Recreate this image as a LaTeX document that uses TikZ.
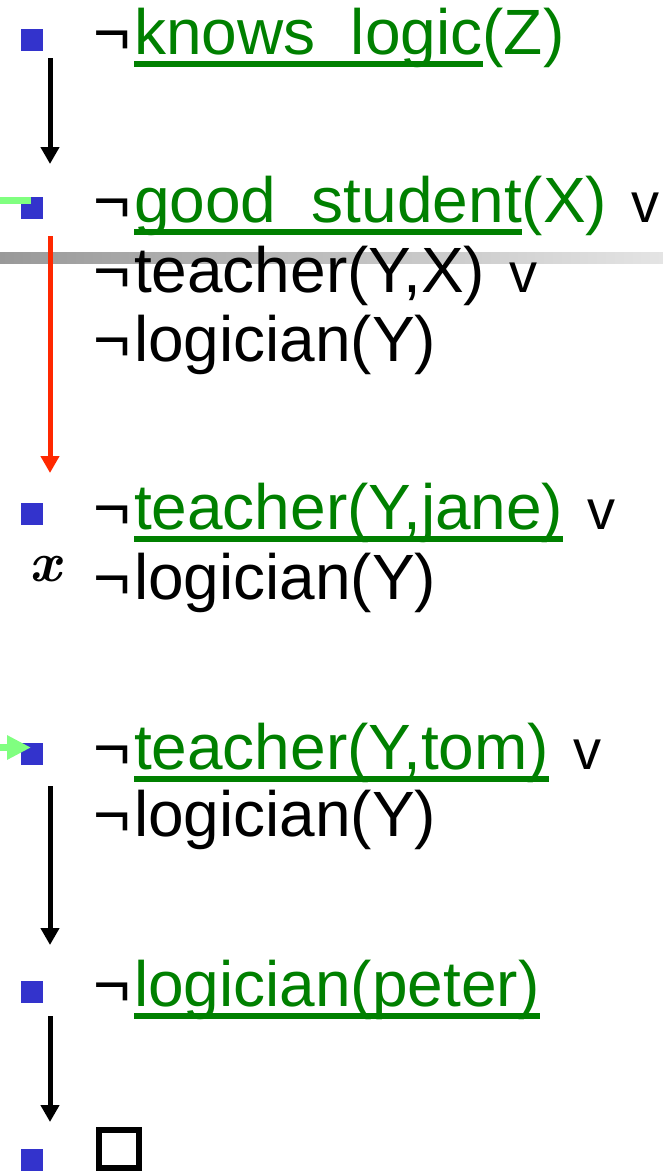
\documentclass[tikz,border=0pt]{standalone}
\usepackage{fontspec}
\newfontfamily\arial{Liberation Sans}
\usetikzlibrary{arrows.meta}
\definecolor{dkgreen}{RGB}{0,128,0}
\definecolor{bulletblue}{RGB}{51,51,204}
\definecolor{arrred}{RGB}{255,40,0}
\definecolor{lgreen}{RGB}{128,255,128}
\definecolor{barleft}{RGB}{153,153,153}
\definecolor{barright}{RGB}{228,228,228}
\tikzset{
  txt/.style={anchor=base west, inner sep=0pt, outer sep=0pt, text=black, font=\arial\fontsize{64}{64}\selectfont},
  grn/.style={txt, text=dkgreen},
  orv/.style={anchor=base west, inner sep=0pt, outer sep=0pt, text=black, font=\arial\fontsize{56}{56}\selectfont},
  xmark/.style={anchor=base west, inner sep=0pt, outer sep=0pt, text=black, font=\fontsize{56}{56}\selectfont\bfseries\itshape},
  bullet/.style={fill=bulletblue, draw=none, minimum size=22pt, inner sep=0pt, outer sep=0pt},
  ul/.style={draw=dkgreen, line width=6pt},
  flow/.style={line width=5pt, -{Triangle[width=18pt,length=17pt]}},
}
\begin{document}
\begin{tikzpicture}[x=1pt,y=-1pt]
\fill[white] (0,0) rectangle (663,1171);
\useasboundingbox (0,0) rectangle (663,1171);

% gray bar
\shade[left color=barleft, right color=barright] (0,252.7) rectangle (663,263.3);

% line 1
\node[txt] (n1) at (93,54) {¬};
\node[grn] (u1) at (134,54) {knows\_logic};
\node[grn] (p1) at (u1.base east) {(Z)};

% line 2
\node[txt] (n2) at (93,222) {¬};
\node[grn] (u2) at (134,222) {good\_student};
\node[grn] (p2) at (u2.base east) {(X)};
\node[orv] (v2) at ([xshift=24pt]p2.base east) {v};

% line 3
\node[txt] (n3) at (93,292) {¬};
\node[txt] (t3) at (134,292) {teacher(Y,X)};
\node[orv] (v3) at ([xshift=24pt]t3.base east) {v};

% line 4
\node[txt] (n4) at (93,361) {¬};
\node[txt] (t4) at (134,361) {logician(Y)};

% line 5
\node[txt] (n5) at (93,529) {¬};
\node[grn] (u5) at (134,529) {teacher(Y,jane)};
\node[orv] (v5) at ([xshift=24pt]u5.base east) {v};

% line 6
\node[txt] (n6) at (93,599) {¬};
\node[txt] (t6) at (134,599) {logician(Y)};
\node[xmark] (xm) at (30,581) {x};

% line 7
\node[txt] (n7) at (93,769) {¬};
\node[grn] (u7) at (134,769) {teacher(Y,tom)};
\node[orv] (v7) at ([xshift=24pt]u7.base east) {v};

% line 8
\node[txt] (n8) at (93,836) {¬};
\node[txt] (t8) at (134,836) {logician(Y)};

% line 9
\node[txt] (n9) at (93,1006) {¬};
\node[grn] (u9) at (134,1006) {logician(peter)};

% underlines
\foreach \u in {u1,u2,u5,u7,u9}
  \draw[ul] ([yshift=-10pt]\u.base west) -- ([yshift=-10pt]\u.base east);

% empty clause box
\node[draw=black, line width=6pt, minimum width=40pt, minimum height=38pt, inner sep=0pt, outer sep=0pt] (box) at (119,1149) {};

% bullets
\node[bullet] (b1) at (32,40) {};
\node[bullet] (b2) at (32,207.5) {};
\node[bullet] (b3) at (32,514) {};
\node[bullet] (b4) at (32,754) {};
\node[bullet] (b5) at (32,992) {};
\node[bullet] (b6) at (32,1160) {};

% arrow end points
\coordinate (a1s) at (50,58);
\coordinate (a1e) at (50,164);
\coordinate (rs) at (50,236);
\coordinate (re) at (50,473);
\coordinate (a3s) at (50,786);
\coordinate (a3e) at (50,945);
\coordinate (a4s) at (50,1016);
\coordinate (a4e) at (50,1122);

\draw[flow, draw=black, fill=black] (a1s) -- (a1e);
\draw[flow, draw=arrred, fill=arrred] (rs) -- (re);
\draw[flow, draw=black, fill=black] (a3s) -- (a3e);
\draw[flow, draw=black, fill=black] (a4s) -- (a4e);

% light green markers
\coordinate (g1s) at (0,200.8);
\coordinate (g1e) at (31,200.8);
\draw[lgreen, line width=7pt] (g1s) -- (g1e);
\coordinate (g2s) at (0,747.5);
\coordinate (g2e) at (31,747.5);
\draw[lgreen, line width=7.5pt, -{Triangle[width=23pt,length=24pt]}] (g2s) -- (g2e);
\end{tikzpicture}
\end{document}
